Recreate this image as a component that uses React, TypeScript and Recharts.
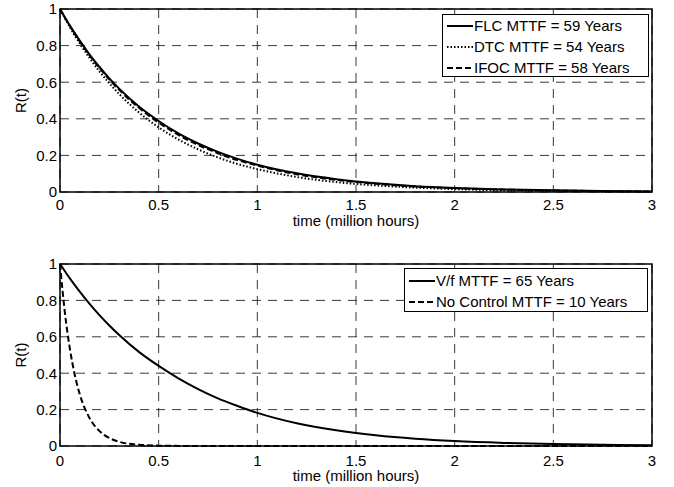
import { LineChart, Line, XAxis, YAxis, CartesianGrid, Legend, ReferenceArea } from 'recharts'

// top panel: FLC / DTC / IFOC reliability curves
const topTime = [0, 0.05, 0.1, 0.15, 0.2, 0.25, 0.3, 0.4, 0.5, 0.6, 0.7, 0.8, 0.9, 1.0, 1.2, 1.4, 1.6, 1.8, 2.0, 2.25, 2.5, 2.75, 3]
const flc = [1, 0.909, 0.827, 0.751, 0.683, 0.621, 0.565, 0.467, 0.388, 0.32, 0.265, 0.219, 0.181, 0.149, 0.102, 0.07, 0.048, 0.032, 0.022, 0.014, 0.009, 0.005, 0.003]
const dtc = [1, 0.901, 0.812, 0.732, 0.659, 0.594, 0.535, 0.435, 0.353, 0.287, 0.233, 0.189, 0.153, 0.125, 0.082, 0.054, 0.036, 0.024, 0.016, 0.009, 0.005, 0.003, 0.002]
const ifoc = [1, 0.907, 0.823, 0.747, 0.678, 0.615, 0.558, 0.46, 0.379, 0.312, 0.257, 0.212, 0.174, 0.144, 0.097, 0.066, 0.045, 0.03, 0.021, 0.013, 0.008, 0.005, 0.003]
const topNames = ['FLC MTTF = 59 Years', 'DTC MTTF = 54 Years', 'IFOC MTTF = 58 Years']

// bottom panel: V/f vs no control
const botTime = [0, 0.025, 0.05, 0.075, 0.1, 0.15, 0.2, 0.25, 0.3, 0.4, 0.5, 0.6, 0.7, 0.8, 0.9, 1.0, 1.2, 1.4, 1.6, 1.8, 2.0, 2.25, 2.5, 2.75, 3]
const vf = [1, 0.96, 0.921, 0.884, 0.848, 0.781, 0.719, 0.662, 0.61, 0.517, 0.44, 0.372, 0.313, 0.262, 0.22, 0.182, 0.125, 0.086, 0.059, 0.04, 0.027, 0.017, 0.011, 0.007, 0.004]
const noCtrl = [1, 0.73, 0.535, 0.39, 0.285, 0.153, 0.082, 0.044, 0.023, 0.007, 0.002, 0.0006, 0, 0, 0, 0, 0, 0, 0, 0, 0, 0, 0, 0, 0]
const botNames = ['V/f MTTF = 65 Years', 'No Control MTTF = 10 Years']

const xTicks = [0, 0.5, 1, 1.5, 2, 2.5, 3]
const yTicks = [0, 0.2, 0.4, 0.6, 0.8, 1]

const topData = topTime.map((t, i) => ({ t, flc: flc[i], dtc: dtc[i], ifoc: ifoc[i] }))
const botData = botTime.map((t, i) => ({ t, vf: vf[i], noCtrl: noCtrl[i] }))

const SOLID = undefined
const DOTTED = '1.5 2'
const DASHED = '6 3'

const tickStyle = { fontSize: 15, fill: '#000' }

function LegendBox({ names, dashes, width, height, padTop }: { names: string[]; dashes: (string | undefined)[]; width: number; height: number; padTop: number }) {
  return (
    <div
      style={{
        width,
        height,
        boxSizing: 'border-box',
        border: '1px solid #000',
        background: '#fff',
        paddingLeft: 4,
        paddingTop: padTop,
        fontSize: 15,
        color: '#000',
      }}
    >
      {names.map((n, i) => (
        <div key={n} style={{ display: 'flex', alignItems: 'center', height: 21 }}>
          <svg width={26} height={10}>
            <line x1={0} y1={5} x2={26} y2={5} stroke="#000" strokeWidth={2} strokeDasharray={dashes[i]} />
          </svg>
          <span style={{ marginLeft: 1, whiteSpace: 'nowrap' }}>{n}</span>
        </div>
      ))}
    </div>
  )
}

function Panel({ data, height, top, bottomAxis, labelOffset, tickGap, children, legend }: any) {
  return (
    <LineChart width={674} height={height} data={data} margin={{ top, right: 22, left: 0, bottom: 0 }}>
      <CartesianGrid stroke="#222" strokeWidth={0.9} strokeDasharray="9 7" />
      <XAxis
        dataKey="t"
        type="number"
        domain={[0, 3]}
        ticks={xTicks}
        height={bottomAxis}
        axisLine={false}
        tickLine={false}
        tickSize={0}
        tickMargin={tickGap}
        tick={tickStyle}
        label={{ value: 'time (million hours)', position: 'insideBottom', offset: labelOffset, fontSize: 15, fill: '#000' }}
      />
      <YAxis
        type="number"
        domain={[0, 1]}
        ticks={yTicks}
        width={60}
        axisLine={false}
        tickLine={false}
        tickSize={0}
        tickMargin={3}
        tick={tickStyle}
        label={{ value: 'R(t)', angle: -90, position: 'insideLeft', offset: 21, fontSize: 15, fill: '#000', style: { textAnchor: 'middle' } }}
      />
      <ReferenceArea x1={0} x2={3} y1={0} y2={1} fill="none" stroke="#000" strokeWidth={1.5} />
      {children}
      {legend}
    </LineChart>
  )
}

export default function App() {
  return (
    <div style={{ position: 'absolute', left: 0, top: 0, width: 674, height: 487, background: '#fff', fontFamily: '"Liberation Sans", Arial, sans-serif' }}>
      <div style={{ position: 'absolute', left: 0, top: 0 }}>
        <Panel
          data={topData}
          height={240}
          top={9}
          bottomAxis={48}
          labelOffset={14}
          tickGap={7}
          legend={
            <Legend
              layout="vertical"
              align="center"
              verticalAlign="middle"
              wrapperStyle={{ left: 442, top: 14, width: 207, height: 63 }}
              content={() => <LegendBox names={topNames} dashes={[SOLID, DOTTED, DASHED]} width={207} height={63} padTop={0} />}
            />
          }
        >
          <Line dataKey="flc" name={topNames[0]} type="monotone" stroke="#000" strokeWidth={2} dot={false} isAnimationActive={false} />
          <Line dataKey="dtc" name={topNames[1]} type="monotone" stroke="#000" strokeWidth={2} strokeDasharray={DOTTED} dot={false} isAnimationActive={false} />
          <Line dataKey="ifoc" name={topNames[2]} type="monotone" stroke="#000" strokeWidth={2} strokeDasharray={DASHED} dot={false} isAnimationActive={false} />
        </Panel>
      </div>
      <div style={{ position: 'absolute', left: 0, top: 250 }}>
        <Panel
          data={botData}
          height={237}
          top={14}
          bottomAxis={41}
          labelOffset={6}
          tickGap={9}
          legend={
            <Legend
              layout="vertical"
              align="center"
              verticalAlign="middle"
              wrapperStyle={{ left: 404, top: 18, width: 244, height: 44 }}
              content={() => <LegendBox names={botNames} dashes={[SOLID, DASHED]} width={244} height={44} padTop={1} />}
            />
          }
        >
          <Line dataKey="vf" name={botNames[0]} type="monotone" stroke="#000" strokeWidth={2} dot={false} isAnimationActive={false} />
          <Line dataKey="noCtrl" name={botNames[1]} type="monotone" stroke="#000" strokeWidth={2} strokeDasharray={DASHED} dot={false} isAnimationActive={false} />
        </Panel>
      </div>
    </div>
  )
}
